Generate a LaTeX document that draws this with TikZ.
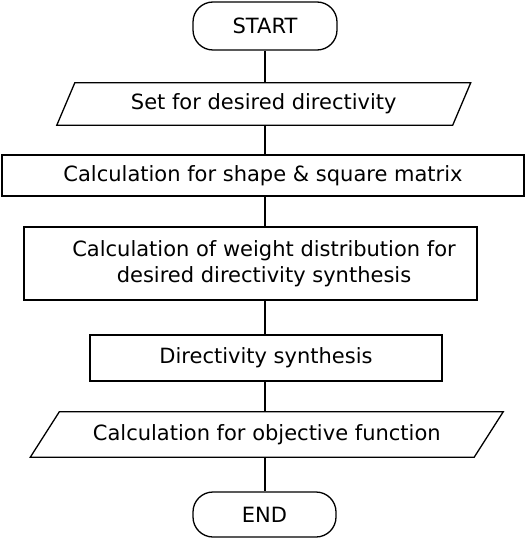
\documentclass[tikz,border=0pt]{standalone}
\usepackage{fontspec}
\setmainfont{DejaVu Sans}
\begin{document}
\begin{tikzpicture}[x=1pt,y=1pt,
  every node/.style={font=\fontsize{21}{26}\selectfont, inner sep=0pt, align=center},
  box/.style={draw, line width=1.3pt, rectangle},
  term/.style={draw, line width=1.3pt, rounded corners=20pt},
  io/.style={draw=none},
  link/.style={line width=1.3pt}]
\useasboundingbox (0,0) rectangle (526,-540);
% terminals
\node[term, minimum width=144pt, minimum height=48pt] (start) at (265,-26) {START};
\node[term, minimum width=143pt, minimum height=45pt] (end) at (264.5,-514.5) {END};
% parallelogram 1
\node[io, minimum width=395.5pt, minimum height=42pt] (p1) at (263.75,-104) {Set for desired directivity};
\draw[link] ([xshift=-9pt]p1.south west) -- ([xshift=9pt]p1.north west) -- ([xshift=9pt]p1.north east) -- ([xshift=-9pt]p1.south east) -- cycle;
% rectangles
\node[box, minimum width=522pt, minimum height=41pt] (r2) at (263,-175.5) {Calculation for shape \& square matrix};
\node[box, minimum width=453pt, minimum height=73pt] (r3) at (250.5,-263.5) {};
\node (t3) at (264,-263.5) {Calculation of weight distribution for\\desired directivity synthesis};
\node[box, minimum width=352pt, minimum height=46pt] (r4) at (266,-358) {Directivity synthesis};
% parallelogram 5
\node[io, minimum width=443.5pt, minimum height=45pt] (p5) at (266.75,-434.5) {Calculation for objective function};
\draw[link] ([xshift=-14.5pt]p5.south west) -- ([xshift=14.5pt]p5.north west) -- ([xshift=14.5pt]p5.north east) -- ([xshift=-14.5pt]p5.south east) -- cycle;
% connectors
\draw[link] (start.south) -- (start.south |- p1.north);
\draw[link] (start.south |- p1.south) -- (start.south |- r2.north);
\draw[link] (start.south |- r2.south) -- (start.south |- r3.north);
\draw[link] (start.south |- r3.south) -- (start.south |- r4.north);
\draw[link] (start.south |- r4.south) -- (start.south |- p5.north);
\draw[link] (start.south |- p5.south) -- (start.south |- end.north);
\end{tikzpicture}
\end{document}
